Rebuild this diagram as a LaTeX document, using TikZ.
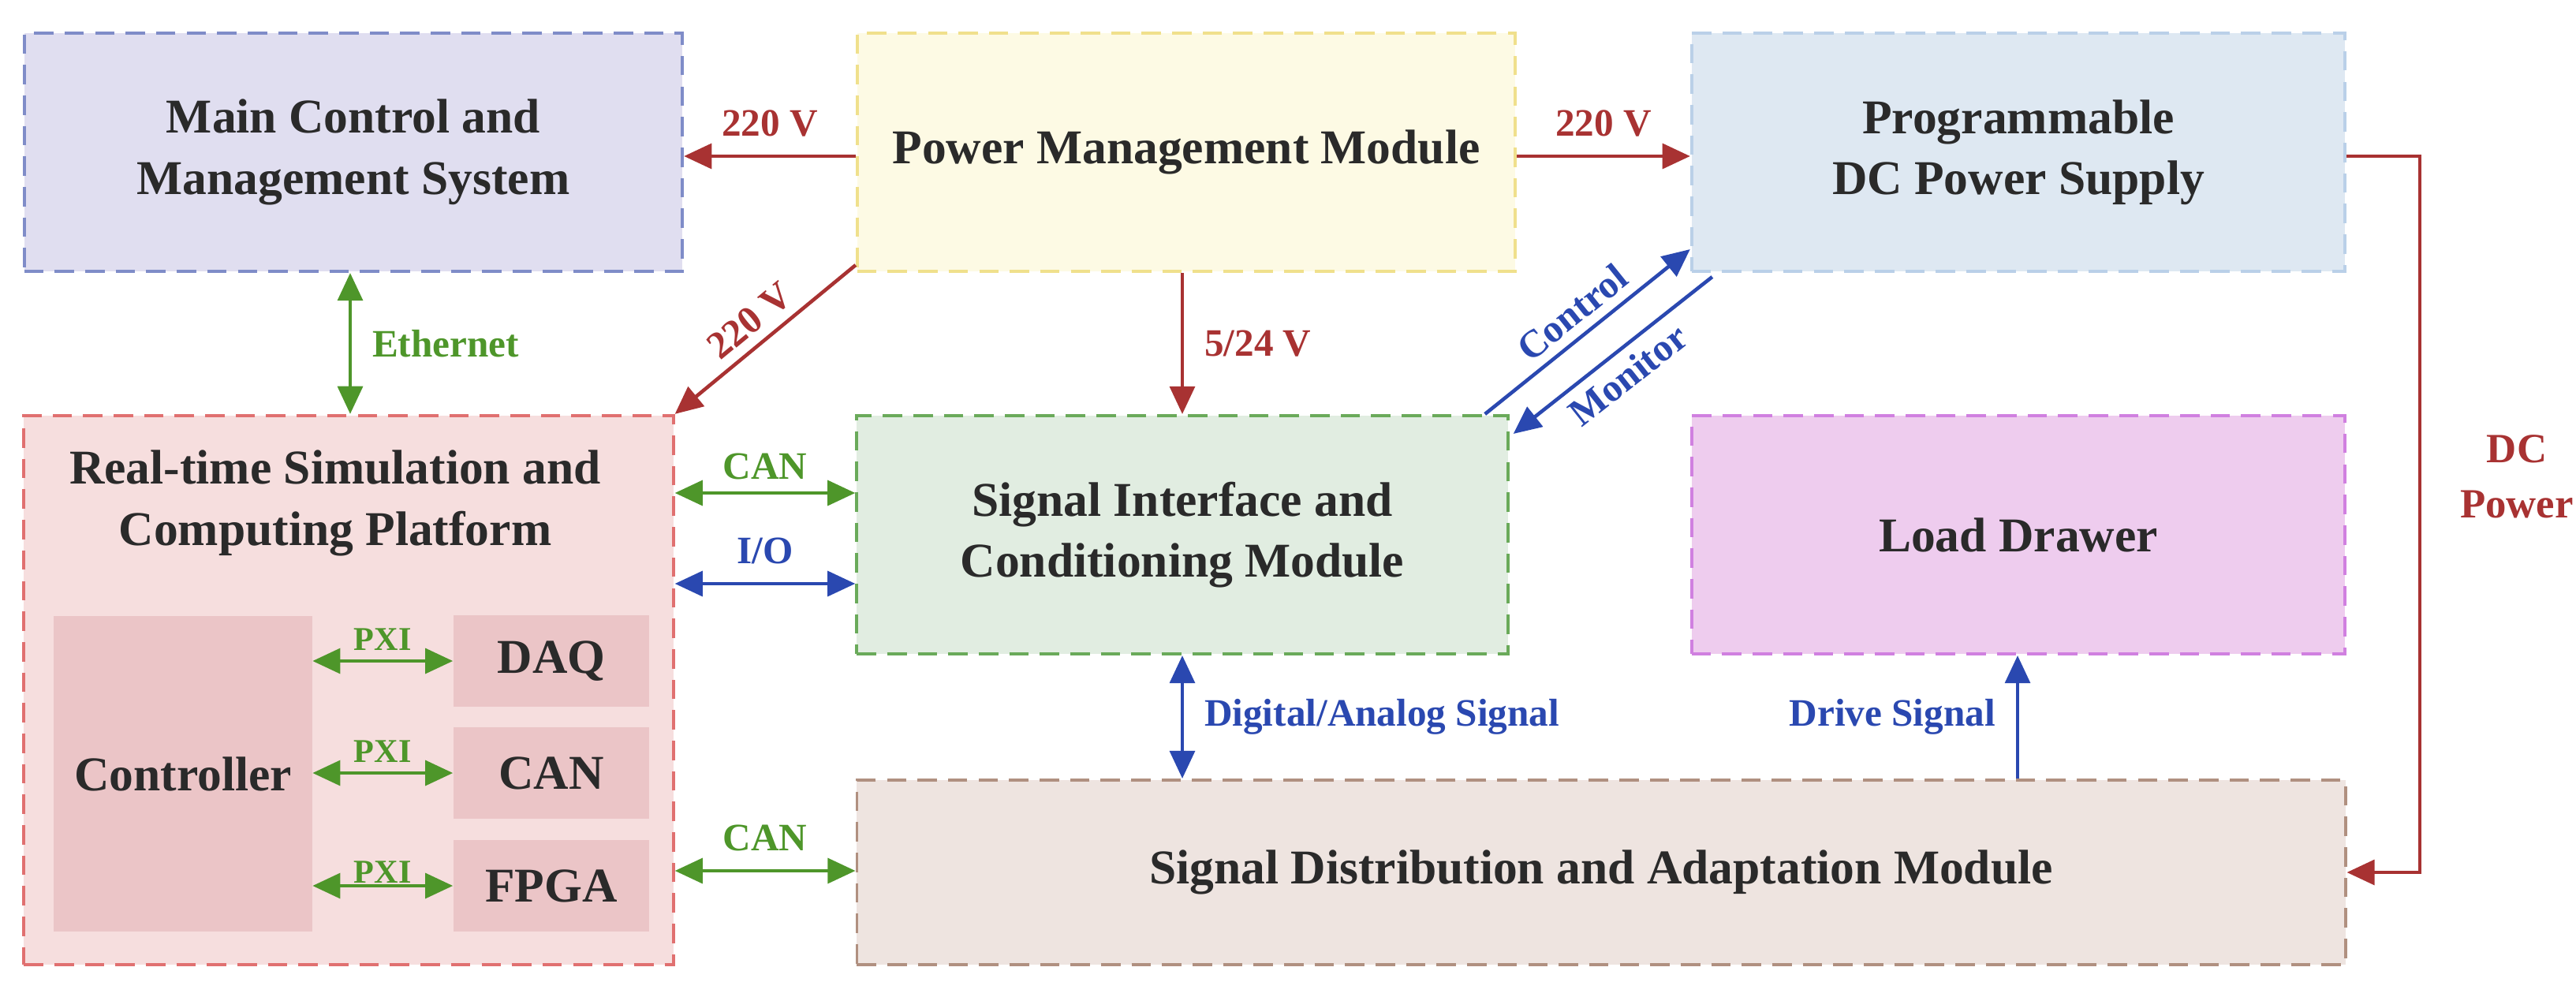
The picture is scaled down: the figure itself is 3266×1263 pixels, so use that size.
\documentclass[tikz,border=0pt]{standalone}
\usepackage{fontspec}
\setmainfont{Liberation Serif}
\usetikzlibrary{arrows.meta,calc}
\definecolor{cred}{HTML}{A83232}
\definecolor{cgreen}{HTML}{4E962A}
\definecolor{cblue}{HTML}{2A48B0}
\definecolor{ctext}{HTML}{2A2A2A}
\definecolor{fM}{RGB}{224,222,240}\definecolor{dM}{RGB}{127,140,200}
\definecolor{fP}{RGB}{253,250,228}\definecolor{dP}{RGB}{240,224,140}
\definecolor{fD}{RGB}{222,232,242}\definecolor{dD}{RGB}{186,208,232}
\definecolor{fR}{RGB}{246,222,222}\definecolor{dR}{RGB}{224,112,112}
\definecolor{fS}{RGB}{225,237,225}\definecolor{dS}{RGB}{106,170,90}
\definecolor{fL}{RGB}{238,204,238}\definecolor{dL}{RGB}{208,128,224}
\definecolor{fSD}{RGB}{238,228,224}\definecolor{dSD}{RGB}{176,144,128}
\definecolor{fI}{RGB}{235,197,199}
\tikzset{
 box/.style={draw, dashed, dash pattern=on 7pt off 4pt, line width=1.1pt, text=ctext, font=\fontsize{17.5}{22}\selectfont\bfseries, align=center, inner sep=0pt},
 inner/.style={fill=fI, draw=none, text=ctext, font=\fontsize{17.5}{22}\selectfont\bfseries, align=center, inner sep=0pt},
 conn/.style={line width=1.3pt, -{Triangle[length=10pt,width=9pt]}},
 bconn/.style={line width=1.3pt, {Triangle[length=10pt,width=9pt]}-{Triangle[length=10pt,width=9pt]}},
 lab/.style={font=\fontsize{14}{16}\selectfont\bfseries},
 pxi/.style={font=\fontsize{12}{14}\selectfont\bfseries, text=cgreen}
}
\begin{document}
\begin{tikzpicture}[x=0.01cm,y=-0.01cm]
\useasboundingbox (0,0) rectangle (3266,1263);
\node[box, fill=fM, draw=dM, minimum width=8.34cm, minimum height=3.02cm] (M) at (448,193) {Main Control and\\Management System};
\node[box, fill=fP, draw=dP, minimum width=8.34cm, minimum height=3.02cm] (P) at (1504,193) {Power Management Module};
\node[box, fill=fD, draw=dD, minimum width=8.28cm, minimum height=3.02cm] (D) at (2559,193) {Programmable\\DC Power Supply};
\node[box, fill=fR, draw=dR, minimum width=8.23cm, minimum height=6.96cm] (R) at (442,875) {};
\node[text=ctext, font=\fontsize{17.5}{22}\selectfont\bfseries, align=center] (RT) at (425,638) {Real-time Simulation and\\Computing Platform};
\node[box, fill=fS, draw=dS, minimum width=8.25cm, minimum height=3.02cm] (S) at (1499,678) {Signal Interface and\\Conditioning Module};
\node[box, fill=fL, draw=dL, minimum width=8.28cm, minimum height=3.02cm] (L) at (2559,678) {Load Drawer};
\node[box, fill=fSD, draw=dSD, minimum width=18.86cm, minimum height=2.34cm] (SD) at (2030,1106) {Signal Distribution and Adaptation Module};
\node[inner, minimum width=3.27cm, minimum height=4.0cm] (C) at (232,981) {Controller};
\node[inner, minimum width=2.48cm, minimum height=1.15cm] (Q) at (699,838) {DAQ};
\node[inner, minimum width=2.48cm, minimum height=1.15cm] (N) at (699,980) {CAN};
\node[inner, minimum width=2.48cm, minimum height=1.15cm] (F) at (699,1123) {FPGA};
% power
\draw[conn, cred] (P.west |- 0,198) -- (M.east |- 0,198) node[midway, above=3pt, lab]{220 V};
\draw[conn, cred] (P.east |- 0,198) -- (D.west |- 0,198) node[midway, above=3pt, lab]{220 V};
\draw[conn, cred] ($(P.south west)+(0,-10)$) -- (R.north east) node[midway, above, sloped, lab]{220 V};
\draw[conn, cred] (P.south -| S.north) -- (S.north) node[midway, right=4pt, lab]{5/24 V};
\draw[line width=1.3pt, cred, -{Triangle[length=10pt,width=9pt]}] (D.east |- 0,198) -- (3068,198) |- (SD.east);
\node[cred, align=center, font=\fontsize{15}{20}\selectfont\bfseries] (DCP) at (3191,604) {DC\\Power};
% green
\draw[bconn, cgreen] (M.south -| 444,0) -- (R.north -| 444,0) node[midway, right=4pt, lab]{Ethernet};
\draw[bconn, cgreen] (R.east |- 0,625) -- (S.west |- 0,625) node[midway, above=1pt, lab]{CAN};
\draw[bconn, cblue] (R.east |- 0,740) -- (S.west |- 0,740) node[midway, above=3pt, lab]{I/O};
\draw[bconn, cgreen] (R.east |- 0,1104) -- (SD.west |- 0,1104) node[midway, above=3pt, lab]{CAN};
\draw[bconn, cgreen] (C.east |- Q.west) -- (Q.west) node[midway, above=0pt, pxi]{PXI};
\draw[bconn, cgreen] (C.east |- N.west) -- (N.west) node[midway, above=0pt, pxi]{PXI};
\draw[bconn, cgreen] (C.east |- F.west) -- (F.west) node[midway, above=-3pt, pxi]{PXI};
% blue
\draw[conn, cblue] ($(S.north east)+(-31,0)$) -- ($(D.south west)+(0,-30)$) node[midway, above, sloped, lab]{Control};
\draw[conn, cblue] ($(D.south west)+(28,5)$) -- ($(S.north east)+(5,25)$) node[midway, below, sloped, lab]{Monitor};
\draw[bconn, cblue] (S.south) -- (SD.north -| S.south) node[midway, right=4pt, lab]{Digital/Analog Signal};
\draw[conn, cblue] (SD.north -| 2558,0) -- (L.south -| 2558,0) node[midway, left=4pt, lab]{Drive Signal};
\end{tikzpicture}
\end{document}
